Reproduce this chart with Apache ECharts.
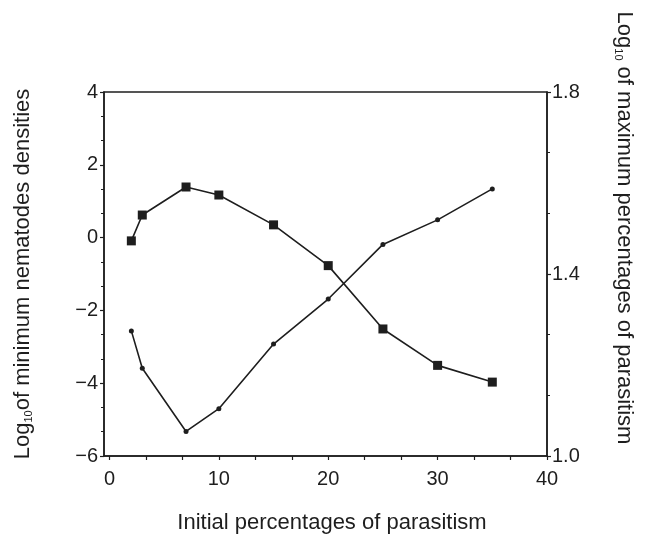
<!DOCTYPE html>
<html><head><meta charset="utf-8">
<script src="https://cdn.jsdelivr.net/npm/echarts@6/dist/echarts.min.js"></script>
<style>html,body{margin:0;padding:0;background:#fff}#c{width:649px;height:540px}</style>
</head><body><div id="c"></div>
<script>
// Data
const xValues = [2, 3, 7, 10, 15, 20, 25, 30, 35];
const minNematodeLog = [-0.09, 0.62, 1.39, 1.17, 0.35, -0.77, -2.51, -3.51, -3.97];   // squares, left axis
const maxParasitismLog = [1.275, 1.193, 1.054, 1.104, 1.246, 1.345, 1.465, 1.519, 1.587]; // circles, right axis
const xLabelValues = [0, 10, 20, 30, 40];
const xTickValues = [0, 3.333, 6.667, 10, 13.333, 16.667, 20, 23.333, 26.667, 30, 33.333, 36.667, 40];
const xTitle = 'Initial percentages of parasitism';
const leftTitle = 'Log{sub|10}of minimum nematodes densities';
const rightTitle = 'Log{sub|10} of maximum percentages of parasitism';

const FONT = '"Liberation Sans", Arial, sans-serif';
const INK = '#1e1e1e';
const subStyle = { fontFamily: FONT, fontSize: 11, color: INK, verticalAlign: 'bottom', padding: [12, 0, 0, 0] };
const chart = echarts.init(document.getElementById('c'));
chart.setOption({
  animation: false,
  backgroundColor: '#fff',
  grid: { left: 104, right: 102, top: 92, bottom: 84, show: true, borderColor: INK, borderWidth: 1.5, backgroundColor: 'transparent' },
  graphic: [{
    type: 'text', x: 624, y: 228, rotation: -Math.PI / 2,
    style: { text: rightTitle, fontFamily: FONT, fontSize: 22, fill: INK, align: 'center', verticalAlign: 'middle', rich: { sub: subStyle } }
  }],
  xAxis: {
    type: 'value', min: -0.5, max: 40,
    name: xTitle, nameLocation: 'middle', nameGap: 56,
    nameTextStyle: { fontFamily: FONT, fontSize: 22, color: INK, padding: [0, 0, 0, 13] },
    axisLine: { onZero: false, lineStyle: { color: INK, width: 1.5 } },
    axisTick: { customValues: xTickValues, length: 4, lineStyle: { color: INK, width: 1.2 } },
    axisLabel: { customValues: xLabelValues, margin: 13, fontFamily: FONT, fontSize: 20, color: INK },
    splitLine: { show: false }
  },
  yAxis: [{
    type: 'value', min: -6, max: 4, interval: 2, position: 'left',
    name: leftTitle, nameLocation: 'middle', nameGap: 70, nameRotate: 90,
    nameTextStyle: { fontFamily: FONT, fontSize: 22, color: INK, rich: { sub: subStyle } },
    axisLine: { show: true, onZero: false, lineStyle: { color: INK, width: 1.5 } },
    axisTick: { show: true, length: 4, lineStyle: { color: INK, width: 1.2 } },
    minorTick: { show: true, splitNumber: 3, length: 3, lineStyle: { color: INK, width: 1 } },
    axisLabel: { margin: 6, fontFamily: FONT, fontSize: 20, color: INK, formatter: v => String(v).replace('-', '\u2212') },
    splitLine: { show: false }
  }, {
    type: 'value', min: 1.0, max: 1.8, interval: 0.4, position: 'right',
    axisLine: { show: true, onZero: false, lineStyle: { color: INK, width: 1.5 } },
    axisTick: { show: true, length: 4, lineStyle: { color: INK, width: 1.2 } },
    minorTick: { show: true, splitNumber: 3, length: 3, lineStyle: { color: INK, width: 1 } },
    axisLabel: { margin: 5, fontFamily: FONT, fontSize: 20, color: INK, formatter: v => v.toFixed(1) },
    splitLine: { show: false }
  }],
  series: [{
    type: 'line', yAxisIndex: 0,
    data: xValues.map((x, i) => [x, minNematodeLog[i]]),
    symbol: 'rect', symbolSize: 9,
    lineStyle: { color: INK, width: 1.6 }, itemStyle: { color: INK }
  }, {
    type: 'line', yAxisIndex: 1,
    data: xValues.map((x, i) => [x, maxParasitismLog[i]]),
    symbol: 'circle', symbolSize: 5,
    lineStyle: { color: INK, width: 1.6 }, itemStyle: { color: INK }
  }]
});
</script></body></html>
